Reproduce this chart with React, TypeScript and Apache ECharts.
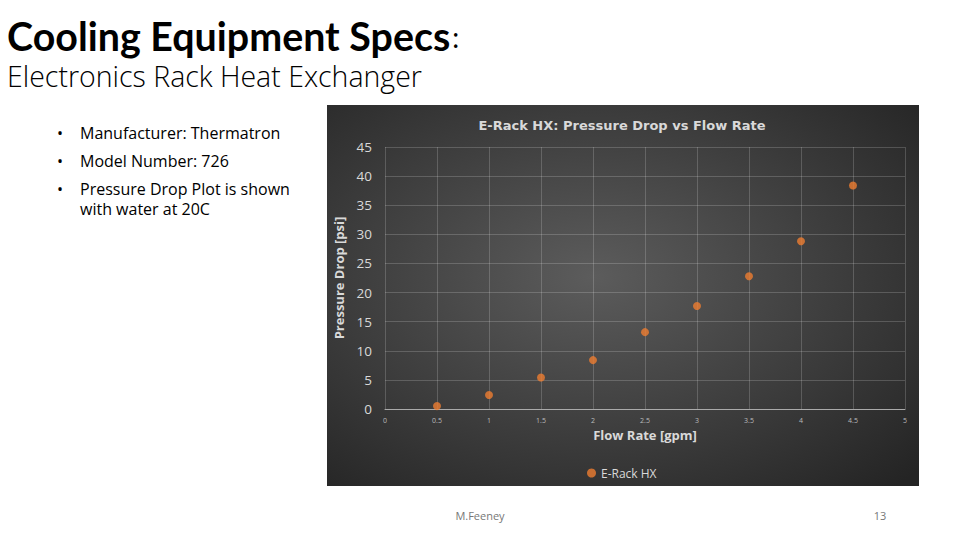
import React, { useEffect, useRef } from "react";
import * as echarts from "echarts";

const flowRate = [0.5, 1, 1.5, 2, 2.5, 3, 3.5, 4, 4.5];
const pressureDrop = [0.5, 2.4, 5.4, 8.4, 13.2, 17.7, 22.8, 28.8, 38.4];
const seriesName = "E-Rack HX";
const chartTitle = "E-Rack HX: Pressure Drop vs Flow Rate";
const xAxisName = "Flow Rate [gpm]";
const yAxisName = "Pressure Drop [psi]";
const slideTitle = "Cooling Equipment Specs";
const slideSubtitle = "Electronics Rack Heat Exchanger";
const bullets = ["Manufacturer: Thermatron", "Model Number: 726"];
const lastBullet = "Pressure Drop Plot is shown\nwith water at 20C";
const footerAuthor = "M.Feeney";
const pageNumber = "13";

export default function App() {
  const ref = useRef<HTMLDivElement>(null);
  useEffect(() => {
    if (!ref.current) return;
    const chart = echarts.init(ref.current, undefined, { renderer: "svg" });
    const textFont = "'Open Sans', 'DejaVu Sans', sans-serif";
    const bulletY = [133, 161, 189];
    const allBullets = [...bullets, lastBullet];
    const graphics: any[] = [
      {
        type: "rect",
        z: -10,
        shape: { x: 327, y: 105, width: 592, height: 381 },
        style: {
          fill: {
            type: "radial",
            x: 0.45,
            y: 0.45,
            r: 0.75,
            colorStops: [
              { offset: 0, color: "#5c5c5c" },
              { offset: 1, color: "#242424" },
            ],
          },
        },
      },
      {
        type: "text",
        x: 7,
        y: 35,
        scaleX: 0.985,
        style: {
          text: "{b|" + slideTitle + "}{n|:}",
          fill: "#000",
          verticalAlign: "middle",
          rich: {
            b: { font: "bold 40px Lato, 'Open Sans', sans-serif", fill: "#000" },
            n: { font: "28px Lato, sans-serif", fill: "#000", padding: [4, 0, 0, 2] },
          },
        },
      },
      {
        type: "text",
        x: 7,
        y: 76,
        style: {
          text: slideSubtitle,
          font: "300 28.5px 'Open Sans', sans-serif",
          fill: "#000",
          verticalAlign: "middle",
        },
      },
      ...allBullets.map((b, i) => ({
        type: "group",
        children: [
          {
            type: "text",
            x: 57,
            y: bulletY[i],
            style: { text: "•", font: "16px " + textFont, fill: "#000", verticalAlign: "middle" },
          },
          {
            type: "text",
            x: 80,
            y: bulletY[i] - 10,
            style: {
              text: b,
              font: "16px " + textFont,
              fill: "#000",
              verticalAlign: "top",
              lineHeight: 20,
            },
          },
        ],
      })),
      {
        type: "text",
        x: 480,
        y: 515,
        style: { text: footerAuthor, font: "11px " + textFont, fill: "#777", align: "center", verticalAlign: "middle" },
      },
      {
        type: "text",
        x: 880,
        y: 515,
        style: { text: pageNumber, font: "11px " + textFont, fill: "#777", align: "center", verticalAlign: "middle" },
      },
    ];

    chart.setOption({
      animation: false,
      backgroundColor: "#ffffff",
      title: {
        text: chartTitle,
        left: 617,
        top: 114,
        textAlign: "center",
        textStyle: {
          color: "#d9d9d9",
          fontSize: 13,
          fontWeight: "bold",
          fontFamily: "'DejaVu Sans', sans-serif",
        },
      },
      legend: {
        data: [seriesName],
        left: 582,
        top: 462,
        icon: "circle",
        itemWidth: 9,
        itemHeight: 9,
        itemGap: 2,
        textStyle: { color: "#d9d9d9", fontSize: 12, fontFamily: "'Open Sans', sans-serif" },
      },
      grid: { left: 385, right: 55, top: 147, bottom: 131 },
      xAxis: {
        type: "value",
        min: 0,
        max: 5,
        interval: 0.5,
        name: xAxisName,
        nameLocation: "middle",
        nameGap: 19,
        nameTextStyle: { color: "#d9d9d9", fontSize: 13, fontWeight: "bold", fontFamily: "'Open Sans', sans-serif" },
        axisLine: { lineStyle: { color: "#aaaaaa", width: 1 } },
        axisTick: { show: false },
        axisLabel: { color: "#bbbbbb", fontSize: 7, margin: 8, fontFamily: "'Open Sans', sans-serif" },
        splitLine: { show: true, lineStyle: { color: "rgba(255,255,255,0.18)" } },
      },
      yAxis: {
        type: "value",
        min: 0,
        max: 45,
        interval: 5,
        name: yAxisName,
        nameLocation: "middle",
        nameGap: 25,
        nameTextStyle: { color: "#d9d9d9", fontSize: 13, fontWeight: "bold", fontFamily: "'Open Sans', sans-serif" },
        axisLine: { show: false },
        axisTick: { show: false },
        axisLabel: { color: "#d9d9d9", fontSize: 13.5, margin: 13, fontFamily: "'Open Sans', sans-serif" },
        splitLine: { show: true, lineStyle: { color: "rgba(255,255,255,0.18)" } },
      },
      series: [
        {
          name: seriesName,
          type: "scatter",
          symbol: "circle",
          symbolSize: 8,
          itemStyle: { color: "#ED7D31" },
          data: flowRate.map((x, i) => [x, pressureDrop[i]]),
        },
      ],
      graphic: graphics,
    });
    return () => chart.dispose();
  }, []);
  return (
    <div
      ref={ref}
      style={{ position: "fixed", left: 0, top: 0, width: 960, height: 540 }}
    />
  );
}
